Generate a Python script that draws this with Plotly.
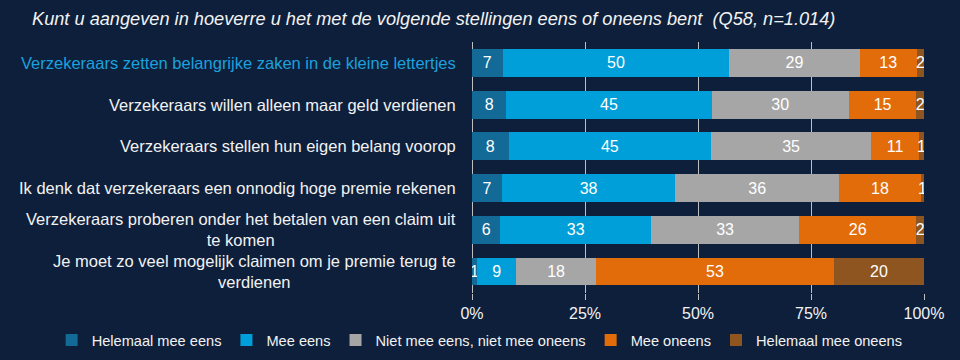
import plotly.graph_objects as go

statements = [
    "Verzekeraars zetten belangrijke zaken in de kleine lettertjes",
    "Verzekeraars willen alleen maar geld verdienen",
    "Verzekeraars stellen hun eigen belang voorop",
    "Ik denk dat verzekeraars een onnodig hoge premie rekenen",
    "Verzekeraars proberen onder het betalen van een claim uit<br>te komen",
    "Je moet zo veel mogelijk claimen om je premie terug te<br>verdienen",
]
categories = ["S1", "S2", "S3", "S4", "S5", "S6"]

helemaal_mee_eens = [6.8, 7.6, 8.1, 6.6, 6.3, 1.1]
mee_eens = [50.1, 45.4, 44.8, 38.4, 33.3, 8.7]
neutraal = [28.9, 30.4, 35.4, 36.2, 32.8, 17.6]
mee_oneens = [12.6, 14.9, 10.6, 18.1, 25.9, 52.7]
helemaal_mee_oneens = [1.6, 1.7, 1.1, 0.7, 1.7, 19.9]

series_names = ["Helemaal mee eens", "Mee eens", "Niet mee eens, niet mee oneens",
                "Mee oneens", "Helemaal mee oneens"]
series_values = [helemaal_mee_eens, mee_eens, neutraal, mee_oneens, helemaal_mee_oneens]
colors = ["#136A97", "#009FD9", "#A6A6A6", "#E36C0A", "#8E5520"]

x_ticks = [0, 25, 50, 75, 100]

BG = "#0E1F3B"
FONT = "Liberation Sans, Arial, sans-serif"

fig = go.Figure()
for name, vals, col in zip(series_names, series_values, colors):
    fig.add_trace(go.Bar(
        y=categories, x=vals, name=name, orientation="h",
        marker=dict(color=col, line=dict(width=0)),
        texttemplate="%{x:.0f}", textposition="inside", textangle=0,
        insidetextanchor="middle",
        textfont=dict(color="#FFFFFF", size=16, family=FONT),
    ))

annotations = []
for i, (cat, label) in enumerate(zip(categories, statements)):
    annotations.append(dict(
        x=-0.032, xref="paper", y=cat, yref="y",
        text=label, showarrow=False, xanchor="right", yanchor="middle",
        align="center",
        font=dict(size=16.5, family=FONT, color="#1BA1DE" if i == 0 else "#F2F2F2"),
    ))

fig.update_layout(
    barmode="stack",
    bargap=0.33,
    width=960, height=360,
    paper_bgcolor=BG, plot_bgcolor=BG,
    margin=dict(l=472, r=36, t=42, b=67, autoexpand=False),
    font=dict(family=FONT, color="#F2F2F2", size=16),
    uniformtext=dict(minsize=16, mode="show"),
    title=dict(
        text="Kunt u aangeven in hoeverre u het met de volgende stellingen eens of oneens bent  (Q58, n=1.014)",
        x=32 / 960, xref="container", xanchor="left",
        y=1 - 19 / 360, yref="container", yanchor="middle",
        font=dict(size=18.2, family=FONT, color="#F2F2F2", style="italic"),
    ),
    xaxis=dict(
        range=[0, 100], tickvals=x_ticks, ticktext=[f"{v}%" for v in x_ticks],
        showgrid=True, gridcolor="#BFBFBF", gridwidth=1,
        zeroline=True, zerolinecolor="#BFBFBF", zerolinewidth=1,
        ticks="outside", ticklen=6, tickcolor="#BFBFBF",
        tickfont=dict(size=16, color="#F2F2F2"),
        showline=False, fixedrange=True,
    ),
    yaxis=dict(
        categoryorder="array", categoryarray=categories, autorange="reversed",
        showticklabels=False, showgrid=False, zeroline=False, showline=False,
        ticks="", fixedrange=True,
    ),
    legend=dict(
        orientation="h", x=-0.93, xanchor="left",
        y=-0.1235, yanchor="top", traceorder="normal",
        font=dict(size=14.6, color="#F2F2F2"),
        bgcolor="rgba(0,0,0,0)", itemclick=False,
    ),
    annotations=annotations,
    showlegend=True,
)

fig.write_html(
    "out.html",
    config={"displayModeBar": False},
    post_script="document.body.style.margin='0';document.body.style.overflow='hidden';",
)
